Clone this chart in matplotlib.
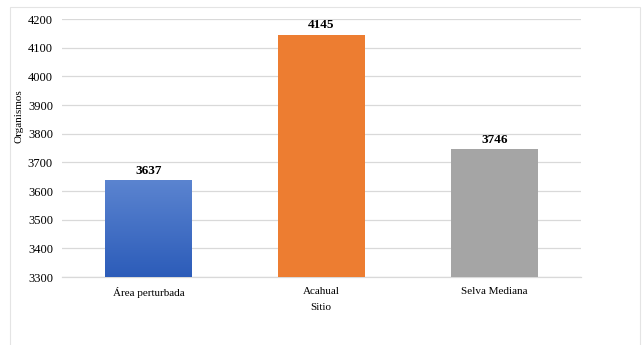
import matplotlib
matplotlib.use("Agg")
import matplotlib.pyplot as plt
import numpy as np
from matplotlib.colors import LinearSegmentedColormap
from matplotlib.patches import Rectangle

sitios = ["Área perturbada", "Acahual", "Selva Mediana"]
organismos = [3637, 4145, 3746]
colores = ["#3f6fc8", "#ed7d31", "#a5a5a5"]

plt.rcParams.update({"font.family": "Liberation Serif", "font.size": 8})

fig = plt.figure(figsize=(6.42, 3.45), dpi=100)
# faint frame around the chart area
fig.patches.append(Rectangle((10 / 642, -0.1), 630 / 642, 1.1 - 7 / 345,
                             transform=fig.transFigure, fill=False,
                             edgecolor="#e4e4e4", linewidth=0.8))
ax = fig.add_axes([62 / 642, 1 - 277 / 345, 519 / 642, 258 / 345])

x = np.arange(len(sitios))
bars = ax.bar(x, organismos, width=0.5, color=colores, zorder=3)

# blue bar gets a vertical gradient, lighter at the top
grad = LinearSegmentedColormap.from_list("azul", ["#2c5cb9", "#5b84d0"])
b0 = bars[0]
img = ax.imshow(np.linspace(0, 1, 256).reshape(-1, 1), cmap=grad, origin="lower",
                aspect="auto", zorder=4,
                extent=(b0.get_x(), b0.get_x() + b0.get_width(), 3300, organismos[0]))
img.set_clip_path(b0)

for b, v in zip(bars, organismos):
    ax.text(b.get_x() + b.get_width() / 2, v + 12, f"{v}", ha="center", va="bottom",
            fontsize=9.5, fontweight="bold", zorder=5)

ax.set_xlim(-0.5, 2.5)
ax.set_ylim(3300, 4200)
ax.set_yticks(range(3300, 4201, 100))
ax.set_xticks(x)
ax.set_xticklabels(sitios, fontsize=8)
ax.tick_params(axis="y", length=0, pad=6.5, labelsize=9)
ax.tick_params(axis="x", length=0, pad=7.5)
ax.grid(axis="y", color="#d9d9d9", linewidth=0.9, zorder=0)
for s in ["top", "right", "left"]:
    ax.spines[s].set_visible(False)
ax.spines["bottom"].set_color("#d9d9d9")
ax.spines["bottom"].set_linewidth(0.9)

fig.text(321 / 642, 1 - 307 / 345, "Sitio", ha="center", va="center", fontsize=8)
fig.text(19 / 642, 1 - 116 / 345, "Organismos", rotation=90,
         ha="center", va="center", fontsize=8)

fig.savefig("out.png", dpi=100, facecolor="white")
